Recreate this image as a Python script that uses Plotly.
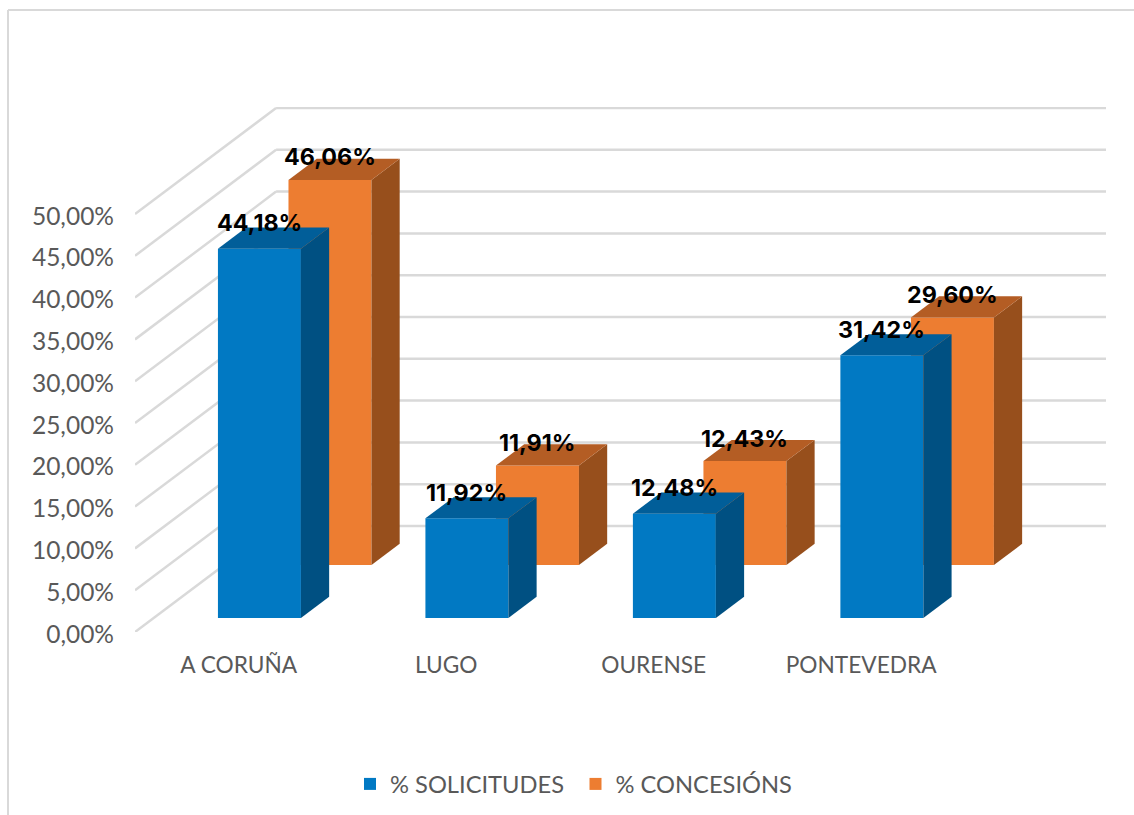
import plotly.graph_objects as go

categories = ["A CORUÑA", "LUGO", "OURENSE", "PONTEVEDRA"]
solicitudes = [44.18, 11.92, 12.48, 31.42]
concesions = [46.06, 11.91, 12.43, 29.60]
tick_values = [0, 5, 10, 15, 20, 25, 30, 35, 40, 45, 50]

def pct(v):
    return f"{v:.2f}".replace(".", ",") + "%"

W, H = 1134, 815
ML, MR, MT, MB = 135, 28, 107, 183
DX, DY = 0.68, 12.68      # oblique projection of full depth, in axis units
BAR_W, CENTER = 0.40, 0.51
TXT, FONT = "#595959", "Lato"

series = [
    dict(name="% CONCESIÓNS", values=concesions, t0=0.632, t=0.20, front="#ED7D31", top="#B45D24", side="#974F1C", shift=23),
    dict(name="% SOLICITUDES", values=solicitudes, t0=0.132, t=0.20, front="#0179C3", top="#015E99", side="#005082", shift=26),
]

fig = go.Figure()
annotations = []
for s in series:
    xs = [i + CENTER + s["t0"] * DX for i in range(len(categories))]
    base = s["t0"] * DY
    fig.add_trace(go.Bar(x=xs, y=s["values"], base=base, width=BAR_W, name=s["name"],
                         marker=dict(color=s["front"], line=dict(width=0)), hoverinfo="skip"))
    for x, v in zip(xs, s["values"]):
        l, r = x - BAR_W / 2, x + BAR_W / 2
        b, u = base, base + v
        ddx, ddy = s["t"] * DX, s["t"] * DY
        fig.add_trace(go.Scatter(x=[r, r + ddx, r + ddx, r, r], y=[b, b + ddy, u + ddy, u, b], mode="lines",
                                 fill="toself", fillcolor=s["side"], line=dict(width=0), showlegend=False, hoverinfo="skip"))
        fig.add_trace(go.Scatter(x=[l, r, r + ddx, l + ddx, l], y=[u, u, u + ddy, u + ddy, u], mode="lines",
                                 fill="toself", fillcolor=s["top"], line=dict(width=0), showlegend=False, hoverinfo="skip"))
        annotations.append(dict(x=x, y=u, xref="x", yref="y", text=f"<b>{pct(v)}</b>", showarrow=False,
                                yshift=s["shift"], font=dict(family="Inter", size=23.3, color="#000000")))

shapes = []
grid = dict(color="#D9D9D9", width=2.5)
for v in tick_values:
    shapes.append(dict(type="line", xref="x", yref="y", x0=0, y0=v, x1=DX, y1=v + DY, line=grid, layer="below"))
    shapes.append(dict(type="line", xref="x", yref="y", x0=DX, y0=v + DY, x1=4 + DX, y1=v + DY, line=grid, layer="below"))

# outer chart frame (top and left edges)
pw, ph = W - ML - MR, H - MT - MB
px = lambda p: (p - ML) / pw
py = lambda p: 1 - (p - MT) / ph
frame = dict(color="#D9D9D9", width=2)
shapes.append(dict(type="line", xref="paper", yref="paper", x0=px(8), y0=py(10), x1=px(1134), y1=py(10), line=frame))
shapes.append(dict(type="line", xref="paper", yref="paper", x0=px(8), y0=py(10), x1=px(8), y1=py(815), line=frame))

fig.update_layout(
    width=W, height=H, autosize=False,
    margin=dict(l=ML, r=MR, t=MT, b=MB, pad=0, autoexpand=False),
    paper_bgcolor="white", plot_bgcolor="rgba(0,0,0,0)",
    barmode="overlay", shapes=shapes, annotations=annotations,
    font=dict(family=FONT, color=TXT, size=23),
    legend=dict(orientation="h", x=px(350), xanchor="left", y=py(784), yanchor="middle",
                traceorder="reversed", entrywidth=180.5, entrywidthmode="pixels",
                font=dict(family=FONT, size=23.7, color=TXT)),
    xaxis=dict(range=[0, 4 + DX], showgrid=False, zeroline=False, showline=False, ticks="",
               tickmode="array", tickvals=[i + 0.5 for i in range(len(categories))], ticktext=categories,
               ticklabelstandoff=17, tickfont=dict(family=FONT, size=22.7, color=TXT)),
    yaxis=dict(range=[0, (H - MB - MT) / 8.36], showgrid=False, zeroline=False, showline=False, ticks="",
               tickmode="array", tickvals=tick_values, ticktext=[pct(v) for v in tick_values],
               ticklabelstandoff=20, ticklabelshift=2, tickfont=dict(family=FONT, size=24.5, color=TXT)),
)

fig.write_html("out.html", post_script="document.body.style.margin='0';", config={"displayModeBar": False})
